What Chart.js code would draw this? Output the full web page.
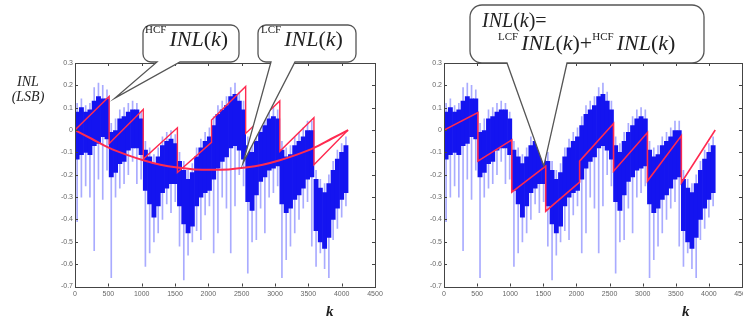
<!DOCTYPE html>
<html>
<head>
<meta charset="utf-8">
<script src="https://cdn.jsdelivr.net/npm/chart.js@4.4.1/dist/chart.umd.min.js"></script>
<style>
html, body { margin: 0; padding: 0; background: #fff; overflow: hidden; }
body { position: relative; width: 743px; height: 320px; }
#wrapL { position: absolute; left: 0; top: 0; width: 387px; height: 320px; }
#wrapR { position: absolute; left: 370px; top: 0; width: 384px; height: 320px; }
.txt { position: absolute; font-family: "Liberation Serif", serif; color: #222; white-space: nowrap; }
.txt i { font-style: italic; }
.txt .s { font-size: 11px; font-style: normal; position: relative; margin-right: 3px; }
</style>
</head>
<body>
<div id="wrapL"><canvas id="chartL" width="387" height="320"></canvas></div>
<div id="wrapR"><canvas id="chartR" width="384" height="320"></canvas></div>

<div class="txt" style="left:14px;top:75px;font-size:14px;line-height:14px;text-align:center;width:28px;"><i>INL</i></div>
<div class="txt" style="left:8px;top:90px;font-size:14px;line-height:14px;text-align:center;width:40px;"><i>(LSB)</i></div>
<div class="txt" style="left:326px;top:304px;font-size:15px;line-height:15px;font-weight:bold;"><i>k</i></div>
<div class="txt" style="left:682px;top:304px;font-size:15px;line-height:15px;font-weight:bold;"><i>k</i></div>

<div class="txt" style="left:145px;top:28px;font-size:22px;line-height:22px;"><span class="s" style="top:-13px;">HCF</span><i>INL</i>(<i>k</i>)</div>
<div class="txt" style="left:261px;top:28px;font-size:22px;line-height:22px;"><span class="s" style="top:-13px;">LCF</span><i>INL</i>(<i>k</i>)</div>
<div class="txt" style="left:482px;top:10px;font-size:20px;line-height:20px;"><i>INL</i>(<i>k</i>)=</div>
<div class="txt" style="left:498px;top:32px;font-size:22px;line-height:22px;"><span class="s" style="top:-10px;">LCF</span><i>INL</i>(<i>k</i>)+<span class="s" style="top:-10px;">HCF</span><i>INL</i>(<i>k</i>)</div>

<script>
'use strict';

// measured INL, read per 64-code bin (dense dark band and light spike extent)
const binSize = 64;
const coreHi = [0.08,0.10,0.08,0.09,0.13,0.15,0.14,0.14, -0.01,0.00,0.05,0.06,0.08,0.09,0.09,0.05,
  -0.09,-0.12,-0.15,-0.12,-0.07,-0.05,-0.04,-0.06, -0.14,-0.18,-0.22,-0.19,-0.12,-0.08,-0.05,-0.03,
  0.02,0.07,0.09,0.11,0.15,0.16,0.13,0.09, -0.07,-0.10,-0.05,-0.01,0.02,0.05,0.06,0.05,
  -0.09,-0.12,-0.11,-0.07,-0.05,-0.03,0.00,0.00, -0.22,-0.26,-0.28,-0.24,-0.18,-0.13,-0.10,-0.07];
const coreLo = [-0.13,-0.11,-0.10,-0.11,-0.07,-0.06,-0.03,-0.04, -0.21,-0.19,-0.15,-0.14,-0.09,-0.08,-0.08,-0.11,
  -0.27,-0.33,-0.39,-0.34,-0.28,-0.26,-0.24,-0.24, -0.34,-0.42,-0.46,-0.43,-0.34,-0.30,-0.28,-0.27,
  -0.22,-0.17,-0.14,-0.12,-0.08,-0.07,-0.09,-0.13, -0.32,-0.36,-0.29,-0.23,-0.21,-0.18,-0.17,-0.16,
  -0.33,-0.37,-0.35,-0.31,-0.29,-0.26,-0.22,-0.21, -0.45,-0.50,-0.53,-0.48,-0.40,-0.35,-0.31,-0.28];
const spikeHi = [0.12,0.14,0.11,0.12,0.19,0.21,0.20,0.18, 0.03,0.05,0.09,0.10,0.12,0.13,0.12,0.08,
  -0.05,-0.08,-0.11,-0.08,-0.03,-0.01,0.00,-0.02, -0.10,-0.14,-0.18,-0.15,-0.08,-0.04,-0.01,0.01,
  0.06,0.11,0.13,0.15,0.19,0.21,0.17,0.13, -0.03,-0.06,-0.01,0.03,0.06,0.09,0.10,0.09,
  -0.05,-0.08,-0.07,-0.03,-0.01,0.01,0.04,0.04, -0.18,-0.22,-0.24,-0.20,-0.14,-0.09,-0.06,-0.03];
const spikeLo = [-0.41,-0.30,-0.25,-0.30,-0.54,-0.22,-0.31,-0.18, -0.66,-0.30,-0.26,-0.24,-0.20,-0.14,-0.24,-0.22,
  -0.61,-0.55,-0.50,-0.46,-0.40,-0.33,-0.37,-0.32, -0.52,-0.67,-0.56,-0.50,-0.45,-0.49,-0.38,-0.34,
  -0.55,-0.46,-0.30,-0.35,-0.55,-0.34,-0.20,-0.25, -0.64,-0.50,-0.49,-0.35,-0.46,-0.30,-0.28,-0.25,
  -0.66,-0.58,-0.52,-0.46,-0.40,-0.35,-0.32,-0.52, -0.61,-0.55,-0.62,-0.66,-0.49,-0.44,-0.39,-0.34];

// high code frequency component (sawtooth) and low code frequency component
const hcfK   = [0, 512, 512, 1024, 1024, 1536, 1536, 2048, 2048, 2560, 2560, 3072, 3072, 3584, 3584, 4096];
const hcfVal = [0, 0.15, -0.06, 0.092, -0.13, 0.01, -0.19, -0.055, 0.045, 0.195, -0.015, 0.13, -0.095, 0.055, -0.155, 0];
const lcfK   = [0, 256, 512, 768, 1024, 1280, 1536, 1792, 2048, 2304, 2560, 2816, 3072, 3328, 3584, 3840, 4096];
const lcfVal = [0, -0.04, -0.08, -0.11, -0.135, -0.155, -0.168, -0.176, -0.178, -0.176, -0.168, -0.155, -0.135, -0.11, -0.08, -0.04, 0];
// model INL = LCF + HCF
const modelK   = hcfK;
const modelVal = [0, 0.078, -0.139, -0.044, -0.278, -0.161, -0.363, -0.233, -0.139, 0.029, -0.184, -0.011, -0.228, -0.026, -0.236, 0];

const xTicks = { min: 0, max: 4500, step: 500 };
const yTicks = { min: -0.7, max: 0.3, step: 0.1 };

const binK = coreHi.map((v, i) => i * binSize + binSize / 2);
const pts = (ks, vs) => ks.map((k, i) => ({ x: k, y: vs[i] }));
const RED = '#ff2a50';

const framePlugin = {
  id: 'frame',
  afterDatasetsDraw(chart) {
    const { ctx, chartArea: a, scales: { x, y } } = chart;
    ctx.save();
    ctx.strokeStyle = '#444';
    ctx.lineWidth = 1;
    ctx.strokeRect(Math.round(a.left) + 0.5, Math.round(a.top) + 0.5, Math.round(a.right - a.left), Math.round(a.bottom - a.top));
    ctx.beginPath();
    x.ticks.forEach(t => {
      const px = Math.round(x.getPixelForValue(t.value)) + 0.5;
      ctx.moveTo(px, a.bottom); ctx.lineTo(px, a.bottom - 3);
      ctx.moveTo(px, a.top); ctx.lineTo(px, a.top + 3);
    });
    y.ticks.forEach(t => {
      const py = Math.round(y.getPixelForValue(t.value)) + 0.5;
      ctx.moveTo(a.left, py); ctx.lineTo(a.left + 3, py);
      ctx.moveTo(a.right, py); ctx.lineTo(a.right - 3, py);
    });
    ctx.stroke();
    ctx.restore();
  }
};

function bubblePlugin(items) {
  return {
    id: 'bubbles',
    afterDraw(chart) {
      const { ctx, scales: { x, y } } = chart;
      items.forEach(b => {
        const [x0, y0, x1, y1] = b.box;
        const r = b.r;
        const tx = x.getPixelForValue(b.tip[0]);
        const ty = y.getPixelForValue(b.tip[1]);
        ctx.save();
        ctx.beginPath();
        ctx.moveTo(x0 + r, y0);
        ctx.lineTo(x1 - r, y0);
        ctx.arcTo(x1, y0, x1, y0 + r, r);
        ctx.lineTo(x1, y1 - r);
        ctx.arcTo(x1, y1, x1 - r, y1, r);
        ctx.lineTo(b.root[1], y1);
        ctx.lineTo(tx, ty);
        ctx.lineTo(b.root[0], y1);
        ctx.lineTo(x0 + r, y1);
        ctx.arcTo(x0, y1, x0, y1 - r, r);
        ctx.lineTo(x0, y0 + r);
        ctx.arcTo(x0, y0, x0 + r, y0, r);
        ctx.closePath();
        ctx.fillStyle = '#fff';
        ctx.fill();
        ctx.strokeStyle = '#555';
        ctx.lineWidth = 1.3;
        ctx.stroke();
        ctx.restore();
      });
    }
  };
}

function inlDatasets() {
  return [{
    type: 'bar',
    data: binK.map((k, i) => ({ x: k, y: [spikeLo[i], spikeHi[i]] })),
    backgroundColor: '#a9abff',
    barThickness: 1,
    grouped: false,
    order: 3
  }, {
    type: 'bar',
    data: binK.map((k, i) => ({ x: k, y: [coreLo[i], coreHi[i]] })),
    backgroundColor: '#1414f0',
    barPercentage: 1,
    categoryPercentage: 1,
    grouped: false,
    order: 2
  }];
}

// red model lines; the dash setting keeps the vertical jumps in the path
function redLine(ks, vs, width, tension) {
  return {
    type: 'line',
    data: pts(ks, vs),
    borderColor: RED,
    borderWidth: width,
    borderDash: [5000, 0],
    pointRadius: 0,
    tension: tension,
    order: 0
  };
}

function makeOptions(padLeft) {
  return {
    responsive: false,
    animation: false,
    events: [],
    layout: { padding: { left: padLeft, right: 12, top: 63, bottom: 13.5 } },
    plugins: { legend: { display: false }, tooltip: { enabled: false } },
    scales: {
      x: {
        type: 'linear', offset: false,
        min: xTicks.min, max: xTicks.max,
        ticks: { stepSize: xTicks.step, padding: 3, color: '#666', font: { family: 'Liberation Sans', size: 7 }, maxRotation: 0,
          callback: v => String(v) },
        grid: { drawOnChartArea: false, drawTicks: false },
        border: { display: false },
        afterFit: s => { s.height = 20; }
      },
      y: {
        min: yTicks.min, max: yTicks.max,
        ticks: { stepSize: yTicks.step, padding: 2, color: '#666', font: { family: 'Liberation Sans', size: 7 },
          callback: v => Math.abs(v) < 1e-9 ? '0' : v.toFixed(1) },
        grid: { drawOnChartArea: false, drawTicks: false },
        border: { display: false },
        afterFit: s => { s.width = 30; }
      }
    }
  };
}

new Chart(document.getElementById('chartL'), {
  type: 'bar',
  data: {
    datasets: inlDatasets().concat([redLine(lcfK, lcfVal, 2, 0.3), redLine(hcfK, hcfVal, 1.4, 0)])
  },
  options: makeOptions(45),
  plugins: [framePlugin, bubblePlugin([
    { box: [143, 25, 239, 62], r: 8, root: [157, 180], tip: [600, 0.143] },
    { box: [258, 25, 356, 62], r: 8, root: [271, 295], tip: [2520, -0.148] }
  ])]
});

new Chart(document.getElementById('chartR'), {
  type: 'bar',
  data: {
    datasets: inlDatasets().concat([redLine(modelK, modelVal, 1.6, 0)])
  },
  options: makeOptions(44),
  plugins: [framePlugin, bubblePlugin([
    { box: [100, 5, 334, 63], r: 12, root: [137, 197], tip: [1507, -0.161] }
  ])]
});
</script>
</body>
</html>
